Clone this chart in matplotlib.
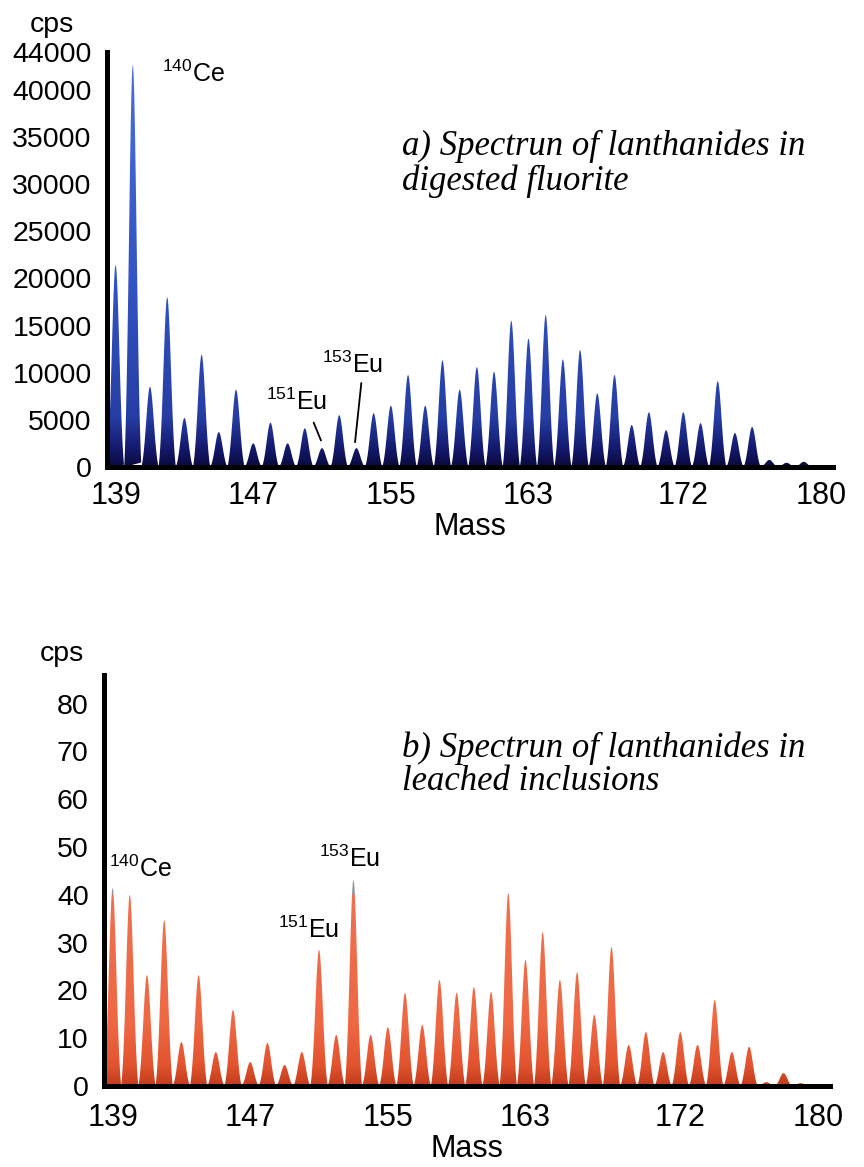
import numpy as np
import matplotlib
matplotlib.use("Agg")
import matplotlib.pyplot as plt
from matplotlib.colors import LinearSegmentedColormap
from matplotlib.path import Path
from matplotlib.patches import PathPatch

plt.rcParams['font.family'] = ['Liberation Sans', 'DejaVu Sans']
plt.rcParams['mathtext.fontset'] = 'custom'
plt.rcParams['mathtext.rm'] = 'Liberation Sans'
plt.rcParams['mathtext.it'] = 'Liberation Sans:italic'
plt.rcParams['mathtext.bf'] = 'Liberation Sans:bold'

# one peak per integer mass 139..179
mass = list(range(139, 180))

# a) digested fluorite, cps
cps_fluorite = [21400, 42600, 8500, 18000, 5200, 11900, 3700, 8200, 2500, 4700,
                2500, 4100, 2000, 5500, 2000, 5700, 6500, 9750, 6500, 11300,
                8200, 10600, 10100, 15500, 13600, 16100, 11400, 12400, 7800, 9750,
                4450, 5800, 3900, 5800, 4650, 9100, 3600, 4250, 750, 450, 550]

# b) leached inclusions, cps
cps_inclusions = [41.4, 40.0, 23.2, 34.7, 9.2, 23.2, 7.1, 15.9, 5.0, 9.0,
                  4.4, 7.1, 28.5, 10.7, 43.1, 10.7, 12.3, 19.5, 12.8, 22.2,
                  19.5, 20.7, 19.7, 40.4, 26.4, 32.2, 22.2, 23.8, 14.9, 29.1,
                  8.6, 11.3, 7.1, 11.3, 8.6, 18.0, 7.1, 8.2, 0.8, 2.7, 0.6]

mass_ticks = [139, 147, 155, 163, 172, 180]
fluorite_ticks = [0, 5000, 10000, 15000, 20000, 25000, 30000, 35000, 40000, 44000]
inclusion_ticks = [0, 10, 20, 30, 40, 50, 60, 70, 80]

XLIM = (138.5, 180.7)
W, H = 864, 1167
SERIF = ['Liberation Serif', 'DejaVu Serif']


def peak_path(centers, heights, sigma=0.22):
    dx = np.linspace(-0.5, 0.5, 81)
    shape = np.exp(-0.5 * (dx / sigma) ** 2)
    shape = (shape - shape[0]) / (1 - shape[0])
    verts, codes = [], []
    for m, h in zip(centers, heights):
        pts = np.column_stack([m + dx, h * shape])
        verts.extend(pts)
        codes += [Path.MOVETO] + [Path.LINETO] * (len(pts) - 2) + [Path.CLOSEPOLY]
    return Path(np.array(verts), codes)


def draw_spectrum(ax, centers, heights, cmap, ytop):
    patch = PathPatch(peak_path(centers, heights), transform=ax.transData,
                      facecolor='none', edgecolor='none')
    ax.add_patch(patch)
    grad = np.linspace(0, 1, 512).reshape(-1, 1)
    im = ax.imshow(grad, cmap=cmap, origin='lower', aspect='auto',
                   extent=[XLIM[0], XLIM[1], 0, ytop], interpolation='bilinear')
    im.set_clip_path(patch)
    ax.set_xlim(*XLIM)
    ax.set_ylim(0, ytop)


def style_axes(ax, yticks, xpad):
    for s in ['top', 'right']:
        ax.spines[s].set_visible(False)
    for s in ['left', 'bottom']:
        ax.spines[s].set_linewidth(3.6)
        ax.spines[s].set_capstyle('projecting')
    ax.set_yticks(yticks)
    ax.set_yticklabels([str(t) for t in yticks], fontsize=20.5)
    ax.set_xticks(mass_ticks)
    ax.set_xticklabels([str(t) for t in mass_ticks], fontsize=22)
    ax.tick_params(axis='y', length=0, pad=11)
    ax.tick_params(axis='x', length=0, pad=xpad)
    ax.set_xlabel('Mass', fontsize=22, labelpad=1)


def isotope(ax, x, y, sup, elem):
    ax.text(x, y, f'$^{{{sup}}}$' + elem, fontsize=18, ha='center', va='center')


blue = LinearSegmentedColormap.from_list('blue', [
    (0.0, '#0a0a3c'), (0.04, '#13186a'), (0.12, '#263ea4'),
    (0.45, '#3354c2'), (1.0, '#4a70dc')])
orange = LinearSegmentedColormap.from_list('orange', [
    (0.0, '#c23c1c'), (0.05, '#e2542f'), (0.15, '#ee6844'),
    (0.464, '#f07050'), (0.468, '#8c93a6'), (1.0, '#8c93a6')])

fig = plt.figure(figsize=(W / 100, H / 100), dpi=100)

# a) digested fluorite
ax1 = fig.add_axes([107 / W, (H - 467) / H, (833 - 107) / W, (467 - 52) / H])
draw_spectrum(ax1, mass, cps_fluorite, blue, 44000)
style_axes(ax1, fluorite_ticks, 10)
isotope(ax1, 143.5, 41700, 140, 'Ce')
isotope(ax1, 149.5, 6900, 151, 'Eu')
isotope(ax1, 152.8, 10800, 153, 'Eu')
ax1.annotate('', xy=(151.0, 2540), xytext=(150.45, 4980),
             arrowprops=dict(arrowstyle='-', color='black', lw=1.3))
ax1.annotate('', xy=(152.9, 2330), xytext=(153.3, 9200),
             arrowprops=dict(arrowstyle='-', color='black', lw=1.3))
fig.text(52 / W, 1 - 25 / H, 'cps', fontsize=20.5, ha='center', va='center')
fig.text(402 / W, 1 - 155 / H, 'a) Spectrun of lanthanides in', fontsize=25,
         family=SERIF, style='italic', ha='left', va='baseline')
fig.text(402 / W, 1 - 190 / H, 'digested fluorite', fontsize=25,
         family=SERIF, style='italic', ha='left', va='baseline')

# b) leached inclusions
ax2 = fig.add_axes([104 / W, (H - 1086) / H, (830 - 104) / W, (1086 - 675) / H])
draw_spectrum(ax2, mass, cps_inclusions, orange, 86)
style_axes(ax2, inclusion_ticks, 12)
isotope(ax2, 140.6, 45.4, 140, 'Ce')
isotope(ax2, 150.4, 32.6, 151, 'Eu')
isotope(ax2, 152.8, 47.5, 153, 'Eu')
fig.text(62 / W, 1 - 654 / H, 'cps', fontsize=20.5, ha='center', va='center')
fig.text(402 / W, 1 - 757 / H, 'b) Spectrun of lanthanides in', fontsize=25,
         family=SERIF, style='italic', ha='left', va='baseline')
fig.text(402 / W, 1 - 790 / H, 'leached inclusions', fontsize=25,
         family=SERIF, style='italic', ha='left', va='baseline')

fig.savefig('out.png', dpi=100, facecolor='white')
